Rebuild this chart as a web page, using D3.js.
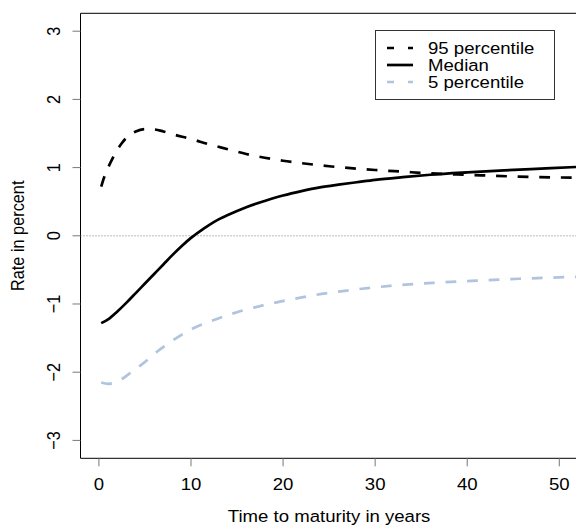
<!DOCTYPE html>
<html><head><meta charset="utf-8">
<script src="https://cdn.jsdelivr.net/npm/d3@7"></script>
<style>html,body{margin:0;padding:0;background:#fff}svg{display:block}text{font-family:"Liberation Sans",Arial,sans-serif;fill:#000}</style>
</head><body>
<script>
// ---- data ----
const p95X = [0.25,0.5,1,1.5,2,2.5,3,4,5,6,7,8,10,12,14,16,18,20,22,25,28,30,33,36,40,45,50,55];
const p95Y = [0.72,0.83,1.00,1.14,1.26,1.36,1.44,1.53,1.565,1.56,1.53,1.49,1.42,1.34,1.27,1.20,1.145,1.10,1.065,1.02,0.985,0.965,0.94,0.915,0.895,0.87,0.855,0.845];
const medX = [0.25,1,2,3,4,5,6,7,8,9,10,11,12,13,14,15,16,18,20,22,24,26,28,30,33,36,40,44,48,52,56];
const medY = [-1.28,-1.225,-1.11,-0.98,-0.84,-0.70,-0.56,-0.42,-0.28,-0.15,-0.03,0.07,0.16,0.24,0.305,0.365,0.42,0.51,0.59,0.655,0.71,0.75,0.785,0.82,0.86,0.895,0.93,0.96,0.985,1.01,1.03];
const p5X = [0.25,1,1.5,2.5,3.5,4.8,6.6,8.4,10.2,12.8,15,17.8,20.4,23.6,26.5,31.6,36.3,41,45.7,50.8,55];
const p5Y = [-2.15,-2.17,-2.16,-2.10,-2.00,-1.87,-1.67,-1.50,-1.36,-1.22,-1.12,-1.02,-0.945,-0.865,-0.81,-0.735,-0.69,-0.657,-0.63,-0.606,-0.59];
const xTicks = [0,10,20,30,40,50];
const yTicks = [-3,-2,-1,0,1,2,3];
const legendLabels = ["95 percentile","Median","5 percentile"];
const xTitle = "Time to maturity in years";
const yTitle = "Rate in percent";

const W=576,H=527;
const L=80.5,R=577.7,T=13.3,B=458.3;
const FS=16.3, SX=1.14;
const blue="#B0C4DE";

const svg=d3.select("body").append("svg").attr("width",W).attr("height",H);
const x=d3.scaleLinear().domain([-2,52]).range([L,R]);
const y=d3.scaleLinear().domain([-3.2625,3.2625]).range([B,T]);

svg.append("clipPath").attr("id","clip").append("rect").attr("x",L).attr("y",T).attr("width",R-L).attr("height",B-T);

function htext(px,py,str,anchor){
  svg.append("text").attr("transform",`translate(${px},${py}) scale(${SX},1)`)
    .attr("text-anchor",anchor||"middle").attr("font-size",FS).text(str);
}
function vtext(px,py,str){
  svg.append("text").attr("transform",`translate(${px},${py}) scale(${SX},1) rotate(-90)`)
    .attr("text-anchor","middle").attr("font-size",FS).text(str);
}

// zero line
svg.append("line").attr("x1",L).attr("x2",R).attr("y1",y(0)).attr("y2",y(0))
  .attr("stroke","#7a7a7a").attr("stroke-width",1).attr("stroke-dasharray","1,2");

// lines
const line=d3.line().curve(d3.curveMonotoneX).x(d=>x(d[0])).y(d=>y(d[1]));
const gl=svg.append("g").attr("clip-path","url(#clip)");
gl.append("path").datum(p5X.map((v,i)=>[v,p5Y[i]])).attr("d",line).attr("fill","none")
  .attr("stroke",blue).attr("stroke-width",2.7).attr("stroke-dasharray","10.8,10.8");
gl.append("path").datum(medX.map((v,i)=>[v,medY[i]])).attr("d",line).attr("fill","none")
  .attr("stroke","#000").attr("stroke-width",2.7);
gl.append("path").datum(p95X.map((v,i)=>[v,p95Y[i]])).attr("d",line).attr("fill","none")
  .attr("stroke","#000").attr("stroke-width",2.7).attr("stroke-dasharray","10.8,10.8");

// box (left, top, bottom)
svg.append("path").attr("d",`M${R},${T}H${L}V${B}H${R}`).attr("fill","none").attr("stroke","#000").attr("stroke-width",1);

// axes ticks
xTicks.forEach(t=>{
  svg.append("line").attr("x1",x(t)).attr("x2",x(t)).attr("y1",B).attr("y2",B+8).attr("stroke","#777");
  htext(x(t),490,String(t));
});
yTicks.forEach(t=>{
  svg.append("line").attr("x1",L-8).attr("x2",L).attr("y1",y(t)).attr("y2",y(t)).attr("stroke","#777");
  vtext(60,y(t),t<0?"\u2212"+Math.abs(t):String(t));
});
htext((L+R)/2,521.5,xTitle);
vtext(24,(T+B)/2,yTitle);

// legend
const lg=svg.append("g");
lg.append("rect").attr("x",375.5).attr("y",30.5).attr("width",179).attr("height",69)
  .attr("fill","#fff").attr("stroke","#333").attr("stroke-width",1);
const lys=[48,65,82];
const lstyles=[{c:"#000",d:"7,14"},{c:"#000",d:null},{c:blue,d:"7,14"}];
legendLabels.forEach((lab,i)=>{
  const ln=lg.append("line").attr("x1",387).attr("x2",413).attr("y1",lys[i]).attr("y2",lys[i])
    .attr("stroke",lstyles[i].c).attr("stroke-width",2.7);
  if(lstyles[i].d) ln.attr("stroke-dasharray",lstyles[i].d);
  svg.append("text").attr("transform",`translate(428,${lys[i]+5.8}) scale(${SX},1)`)
    .attr("font-size",FS).text(lab);
});
</script>
</body></html>
